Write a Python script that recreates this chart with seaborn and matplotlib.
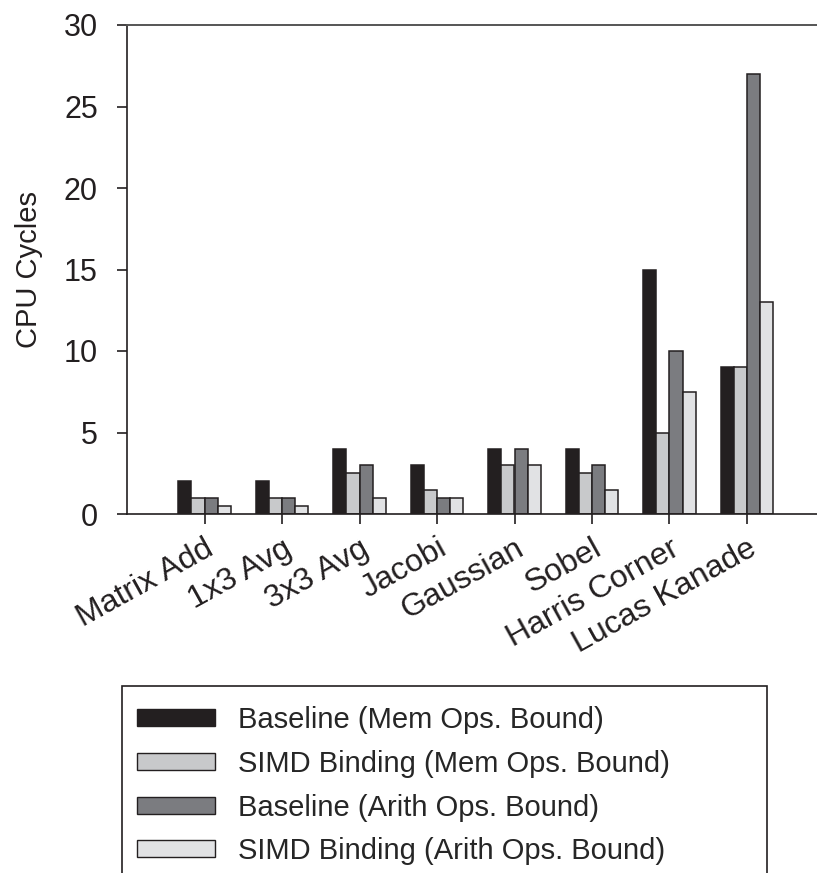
import matplotlib
matplotlib.use("Agg")
import matplotlib.pyplot as plt
from matplotlib.patches import Patch, Rectangle
import pandas as pd
import seaborn as sns

# Benchmarks and per-configuration CPU cycle counts
benchmarks = ["Matrix Add", "1x3 Avg", "3x3 Avg", "Jacobi", "Gaussian",
              "Sobel", "Harris Corner", "Lucas Kanade"]
series_names = ["Baseline (Mem Ops. Bound)", "SIMD Binding (Mem Ops. Bound)",
                "Baseline (Arith Ops. Bound)", "SIMD Binding (Arith Ops. Bound)"]
baseline_mem = [2, 2, 4, 3, 4, 4, 15, 9]
simd_mem = [1, 1, 2.5, 1.5, 3, 2.5, 5, 9]
baseline_arith = [1, 1, 3, 1, 4, 3, 10, 27]
simd_arith = [0.5, 0.5, 1, 1, 3, 1.5, 7.5, 13]
y_ticks = [0, 5, 10, 15, 20, 25, 30]

colors = ["#231f20", "#c8c9cb", "#7b7c80", "#e1e2e4"]
edge = "#231f20"

rows = []
for name, vals in zip(series_names, [baseline_mem, simd_mem, baseline_arith, simd_arith]):
    for b, v in zip(benchmarks, vals):
        rows.append({"benchmark": b, "config": name, "cycles": v})
df = pd.DataFrame(rows)

sns.set_style("ticks")
plt.rcParams["font.family"] = ["Liberation Sans", "DejaVu Sans"]

W, H = 817, 873
fig = plt.figure(figsize=(W / 100, H / 100), dpi=100)
ax = fig.add_axes([127 / W, (H - 514) / H, 9 * 77.5 / W, (514 - 25) / H])

sns.barplot(data=df, x="benchmark", y="cycles", hue="config",
            order=benchmarks, hue_order=series_names, palette=colors,
            saturation=1, width=0.68, gap=0, edgecolor=edge, linewidth=1.1,
            legend=False, ax=ax)

ax.set_xlim(-1, 8)
ax.set_ylim(0, 30)
ax.set_yticks(y_ticks)
ax.set_xlabel("")
ax.set_ylabel("CPU Cycles", fontsize=21, color="#231f20", labelpad=15)

for side in ["left", "bottom"]:
    ax.spines[side].set_color(edge)
    ax.spines[side].set_linewidth(1.2)
ax.spines["top"].set_color("#555555")
ax.spines["top"].set_linewidth(1.4)
ax.spines["right"].set_visible(False)

ax.tick_params(axis="both", direction="out", length=7, width=1.2, color=edge,
               labelcolor="#231f20")
ax.tick_params(axis="y", labelsize=22, pad=14)
ax.tick_params(axis="x", labelsize=23, pad=7)
for lbl in ax.get_xticklabels():
    lbl.set_rotation(29)
    lbl.set_ha("right")
    lbl.set_va("top")
    lbl.set_rotation_mode("anchor")

# Legend below the plot inside an open-bottomed frame
handles = [Patch(facecolor=c, edgecolor=edge, linewidth=1.0) for c in colors]
fig.legend(handles, series_names, loc="upper left",
           bbox_to_anchor=(137 / W, 1 - 706 / H), bbox_transform=fig.transFigure,
           frameon=False, fontsize=21, handlelength=2.67, handleheight=0.51,
           handletextpad=0.79, labelspacing=0.54, borderpad=0, borderaxespad=0)
fig.add_artist(Rectangle((122 / W, -0.05), (767 - 122) / W, 0.05 + (H - 686) / H,
                         transform=fig.transFigure, fill=False,
                         edgecolor=edge, linewidth=1.2))

fig.savefig("out.png", dpi=100)
